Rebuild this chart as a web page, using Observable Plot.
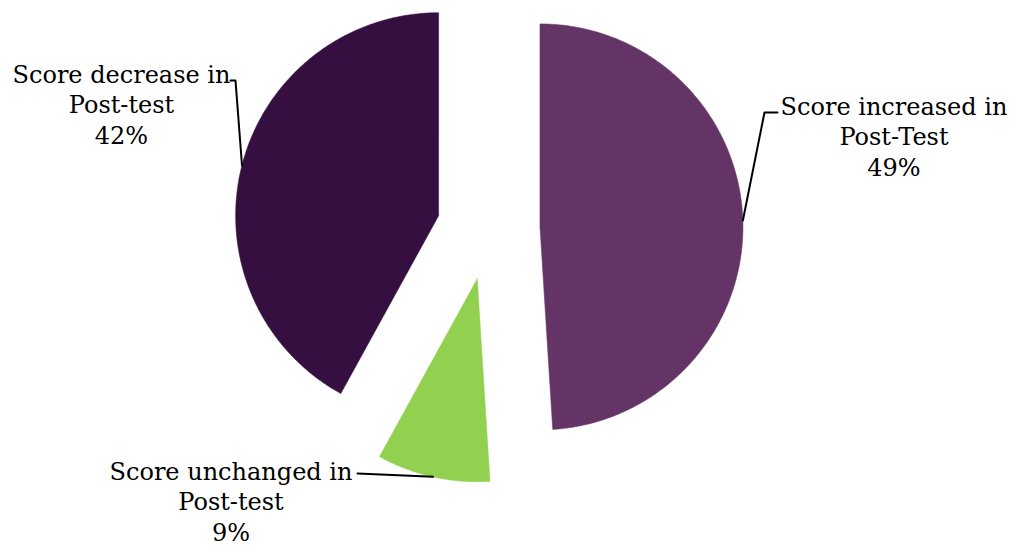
<!DOCTYPE html>
<html>
<head>
<meta charset="utf-8">
<script src="https://cdn.jsdelivr.net/npm/d3@7"></script>
<script src="https://cdn.jsdelivr.net/npm/@observablehq/plot@0.6"></script>
<style>
  html, body { margin: 0; padding: 0; background: #fff; }
  #chart svg { display: block; }
</style>
</head>
<body>
<div id="chart"></div>
<script>
// ---- data ----
const categories = ["Score increased in Post-Test", "Score unchanged in Post-test", "Score decrease in Post-test"];
const labelText = ["Score increased in\nPost-Test", "Score unchanged in\nPost-test", "Score decrease in\nPost-test"];
const percents = [49, 9, 42];
const colors = ["#653467", "#92d050", "#360f41"];

// ---- layout (pixels) ----
const W = 1016, H = 547;
const CX = 488, CY = 228, R = 203;      // pie centre & radius
const EXPLODE = 51.5;                   // explosion distance
const FS = 24;                          // font size
const LH = 30.5;                        // line spacing px
// label block: centre x, baseline of middle line; leader elbow points
const labelLayout = [
  {x: 893.5, mid: 143.5, path: [[764, 112], [777, 112]]},
  {x: 230.5, mid: 508.5, path: [[357, 473]]},
  {x: 121, mid: 111.5, path: [[235, 80], [230, 80]]}
];

// unit coordinates (radius = 1), y grows downward
const ux = px => (px - CX) / R;
const uy = py => (py - CY) / R;

const arcs = d3.pie().sort(null).value(d => d)(percents);
const slices = arcs.map((a, i) => {
  const mid = (a.startAngle + a.endAngle) / 2;
  const ox = Math.sin(mid) * EXPLODE / R, oy = -Math.cos(mid) * EXPLODE / R;
  const pts = [{x: ox, y: oy}];
  const n = Math.max(8, Math.ceil((a.endAngle - a.startAngle) / 0.01));
  for (let k = 0; k <= n; k++) {
    const t = a.startAngle + (a.endAngle - a.startAngle) * k / n;
    pts.push({x: ox + Math.sin(t), y: oy - Math.cos(t)});
  }
  pts.push({x: ox, y: oy});
  const anchor = {x: ox + Math.sin(mid), y: oy - Math.cos(mid)};
  return {pts, anchor, i};
});

const marks = [];
slices.forEach(s => {
  marks.push(Plot.line(s.pts, {x: "x", y: "y", fill: colors[s.i], stroke: colors[s.i], strokeWidth: 0.5, curve: "linear"}));
});
slices.forEach(s => {
  const L = labelLayout[s.i];
  const leader = [s.anchor, ...L.path.map(([px, py]) => ({x: ux(px), y: uy(py)}))];
  marks.push(Plot.line(leader, {x: "x", y: "y", stroke: "#000", strokeWidth: 2}));
});
const labels = slices.map(s => ({
  text: labelText[s.i] + "\n" + percents[s.i] + "%",
  x: ux(labelLayout[s.i].x),
  y: uy(labelLayout[s.i].mid - 0.35 * FS)
}));
marks.push(Plot.text(labels, {
  x: "x", y: "y", text: "text",
  textAnchor: "middle", lineAnchor: "middle",
  lineHeight: LH / FS,
  fontSize: FS, fill: "#000"
}));

const chart = Plot.plot({
  width: W, height: H,
  margin: 0,
  x: {domain: [ux(0), ux(W)], range: [0, W], axis: null},
  y: {domain: [uy(0), uy(H)], range: [0, H], axis: null},
  style: {fontFamily: "'DejaVu Serif', serif", background: "#fff"},
  marks
});
document.getElementById("chart").appendChild(chart);
</script>
</body>
</html>
